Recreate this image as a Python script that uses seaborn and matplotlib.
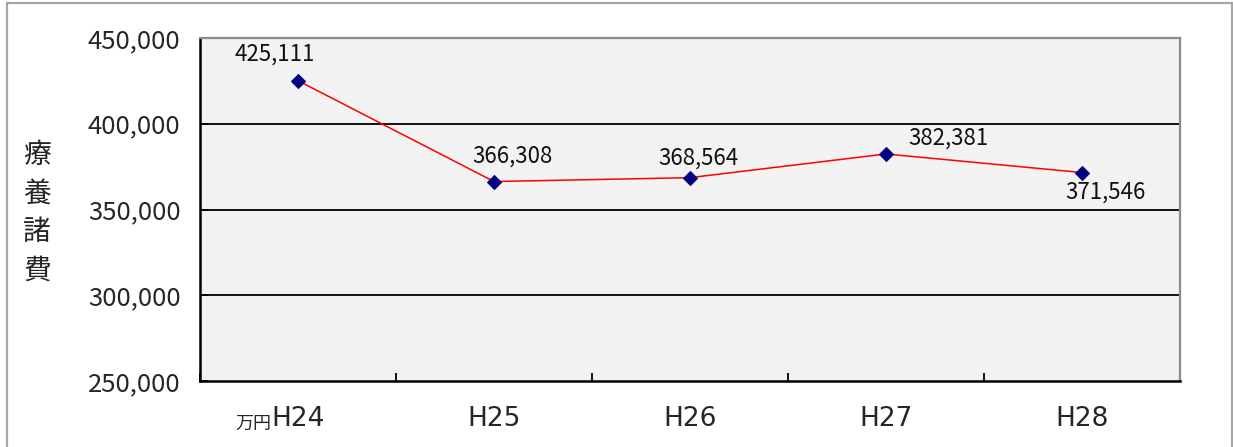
import matplotlib
matplotlib.use('Agg')
import matplotlib.pyplot as plt
import matplotlib.patches as patches
from matplotlib.ticker import FuncFormatter, FixedLocator
import seaborn as sns

# data
years = ['H24', 'H25', 'H26', 'H27', 'H28']
costs = [425111, 366308, 368564, 382381, 371546]
y_ticks = [250000, 300000, 350000, 400000, 450000]
y_title = '療養諸費'
unit = '万円'

# label offsets (pixels) like the excel data labels
label_offsets = [(-23, 27), (18, 25), (8, 20), (62, 16), (23, -20)]

sns.set_style('white')
plt.rcParams['font.family'] = ['Noto Sans CJK JP', 'DejaVu Sans']

fig = plt.figure(figsize=(12.33, 4.47), dpi=100)
ax = fig.add_axes([200 / 1233, 1 - 381 / 447, 980 / 1233, (381 - 38) / 447])
ax.set_facecolor('#f2f2f2')

# outer frame of the chart
frame = patches.Rectangle((7 / 1233, -0.02), (1232 - 7) / 1233, 1.02 - 3 / 447,
                          transform=fig.transFigure, fill=False,
                          edgecolor='#a6a6a6', linewidth=1.6)
fig.patches.append(frame)

for y in y_ticks[1:-1]:
    ax.axhline(y, color='black', linewidth=1.3, zorder=1)

sns.lineplot(x=years, y=costs, ax=ax, color='red', linewidth=1.1,
             marker='D', markersize=7, markerfacecolor='#000080',
             markeredgecolor='#000080', zorder=3)

for i, v in enumerate(costs):
    ax.annotate(f'{v:,}', xy=(i, v), xytext=label_offsets[i],
                textcoords='offset pixels', ha='center', va='center',
                fontsize=16, color='#111111')

ax.set_xlim(-0.5, 4.5)
ax.set_ylim(250000, 450000)
ax.set_yticks(y_ticks)
ax.yaxis.set_major_formatter(FuncFormatter(lambda v, p: f'{int(v):,}'))
ax.xaxis.set_minor_locator(FixedLocator([-0.5, 0.5, 1.5, 2.5, 3.5, 4.5]))
ax.tick_params(axis='x', which='major', length=0, pad=18, labelsize=19)
ax.tick_params(axis='x', which='minor', direction='in', length=6, width=1.3,
               color='black', bottom=True)
ax.tick_params(axis='y', direction='in', length=6, width=1.3, pad=14,
               labelsize=18.5, left=True, color='black')
for lab in ax.get_xticklabels():
    lab.set_family('DejaVu Sans')
ax.set_xlabel('')
ax.set_ylabel('')

for s in ['left', 'bottom']:
    ax.spines[s].set_color('black')
    ax.spines[s].set_linewidth(1.8)
for s in ['top', 'right']:
    ax.spines[s].set_color('#8c8c8c')
    ax.spines[s].set_linewidth(1.6)

fig.text(37 / 1233, 1 - 213 / 447, '\n'.join(y_title), ha='center',
         va='center', fontsize=20, linespacing=1.37)

ax.annotate(unit, xy=(0, 0), xycoords=('data', 'axes fraction'),
            xytext=(-27, -43), textcoords='offset pixels',
            ha='right', va='center', fontsize=13)

fig.savefig('out.png', dpi=100)
